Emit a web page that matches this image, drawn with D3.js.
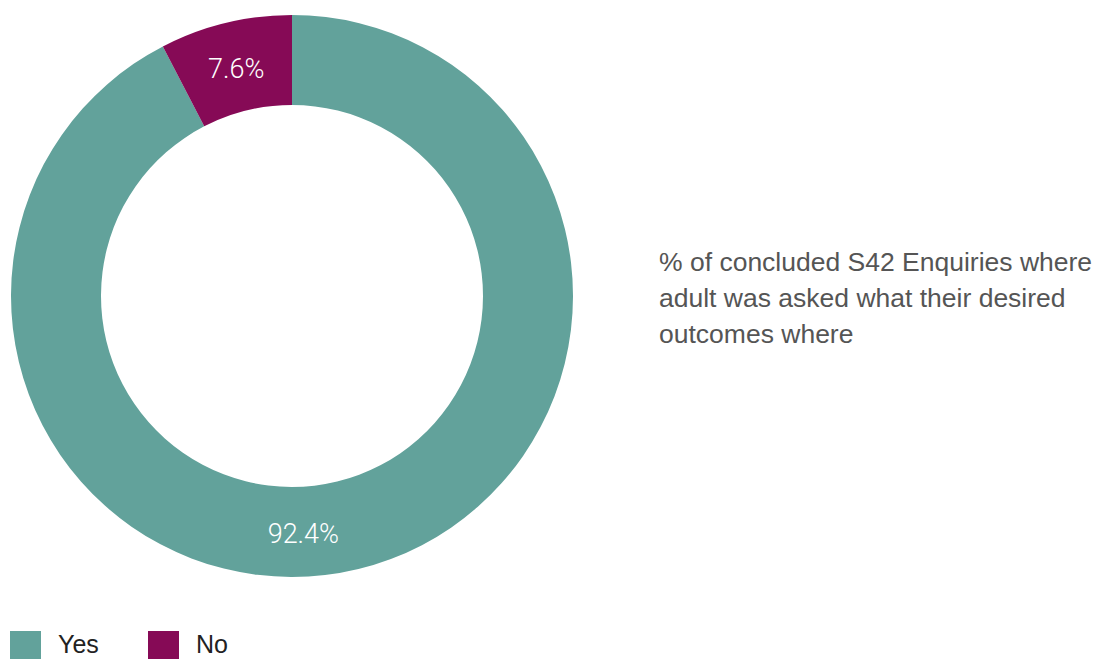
<!DOCTYPE html>
<html><head><meta charset="utf-8">
<script src="https://cdn.jsdelivr.net/npm/d3@7"></script>
<style>html,body{margin:0;padding:0;background:#fff;}svg{display:block;}</style>
</head><body>
<svg id="chart" width="1100" height="659"></svg>
<script>
const categories = ["Yes", "No"];
const values = [92.4, 7.6];
const valueLabels = ["92.4%", "7.6%"];
const colors = ["#62a29b", "#860a56"];
const titleLines = ["% of concluded S42 Enquiries where", "adult was asked what their desired", "outcomes where"];

const svg = d3.select("#chart");
const cx = 292, cy = 296, rOuter = 281, rInner = 191;

const pie = d3.pie().sort(null).value(d => d);
const arcs = pie(values);
const arc = d3.arc().innerRadius(rInner).outerRadius(rOuter);

const g = svg.append("g").attr("transform", `translate(${cx},${cy})`);
g.selectAll("path").data(arcs).enter().append("path")
  .attr("d", arc).attr("fill", (d, i) => colors[i]);

const labelR = (rInner + rOuter) / 2;
g.selectAll("text.lbl").data(arcs).enter().append("text")
  .attr("class", "lbl")
  .attr("transform", d => {
    let a = (d.startAngle + d.endAngle) / 2;
    if (d.endAngle - d.startAngle > Math.PI) a = Math.PI - 0.048;
    return `translate(${labelR * Math.sin(a)},${-labelR * Math.cos(a)})`;
  })
  .attr("text-anchor", "middle").attr("dy", "0.4em")
  .attr("font-family", "Roboto, 'Liberation Sans', sans-serif")
  .attr("font-weight", 300).attr("font-size", 27).attr("fill", "#ffffff")
  .text((d, i) => valueLabels[i]);

const t = svg.append("text").attr("x", 659).attr("y", 271)
  .attr("font-family", "'Liberation Sans', Arial, sans-serif")
  .attr("font-size", 26.5).attr("fill", "#555555");
titleLines.forEach((line, i) => {
  t.append("tspan").attr("x", 659).attr("dy", i === 0 ? 0 : 36).text(line);
});

const leg = svg.append("g");
const legX = [10, 148];
categories.forEach((c, i) => {
  leg.append("rect").attr("x", legX[i]).attr("y", 631).attr("width", 31).attr("height", 28).attr("fill", colors[i]);
  leg.append("text").attr("x", legX[i] + 48).attr("y", 653)
    .attr("font-family", "'Liberation Sans', Arial, sans-serif")
    .attr("font-size", 25).attr("fill", "#222").text(c);
});
</script>
</body></html>
